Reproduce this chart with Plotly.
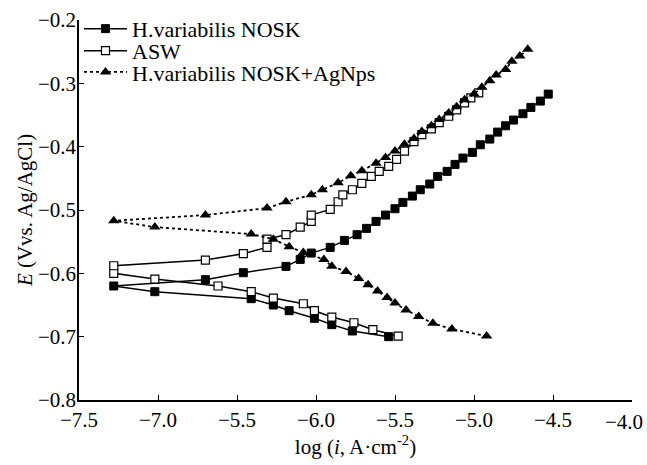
import plotly.graph_objects as go

# H.variabilis NOSK (cathodic branch then anodic branch)
nosk_x = [-5.54, -5.77, -5.90, -6.01, -6.17, -6.27, -6.41, -7.02, -7.28,
          -6.70, -6.46, -6.19, -6.10, -6.03, -5.91, -5.82, -5.74, -5.68, -5.62,
          -5.56, -5.50, -5.45, -5.39, -5.34, -5.28, -5.23, -5.17, -5.12, -5.07,
          -5.01, -4.96, -4.90, -4.85, -4.80, -4.75, -4.69, -4.64, -4.58, -4.53]
nosk_y = [-0.700, -0.691, -0.681, -0.671, -0.659, -0.650, -0.640, -0.629, -0.620,
          -0.610, -0.599, -0.589, -0.578, -0.568, -0.559, -0.548, -0.539, -0.529, -0.518,
          -0.508, -0.498, -0.488, -0.478, -0.468, -0.459, -0.447, -0.439, -0.428, -0.418,
          -0.409, -0.397, -0.388, -0.377, -0.367, -0.358, -0.348, -0.338, -0.328, -0.317]

# ASW
asw_x = [-5.48, -5.64, -5.76, -5.90, -6.01, -6.08, -6.27, -6.41, -6.62, -7.02, -7.28,
         -7.28, -6.70, -6.46, -6.31, -6.31, -6.19, -6.10, -6.03, -6.03, -5.91, -5.86,
         -5.83, -5.77, -5.71, -5.65, -5.60, -5.54, -5.49, -5.44, -5.38, -5.33, -5.27,
         -5.22, -5.16, -5.11, -5.06, -5.02, -4.97]
asw_y = [-0.699, -0.689, -0.678, -0.669, -0.659, -0.648, -0.639, -0.629, -0.620, -0.609, -0.600,
         -0.588, -0.579, -0.569, -0.559, -0.546, -0.539, -0.527, -0.518, -0.508, -0.499, -0.487,
         -0.476, -0.468, -0.458, -0.447, -0.439, -0.431, -0.420, -0.407, -0.392, -0.381, -0.372,
         -0.362, -0.352, -0.342, -0.331, -0.323, -0.315]

# H.variabilis NOSK+AgNps
agnp_x = [-4.92, -5.14, -5.26, -5.35, -5.43, -5.50, -5.55, -5.61, -5.67, -5.73, -5.81,
          -5.90, -5.95, -6.08, -6.17, -6.27, -6.41, -7.02, -7.28,
          -6.70, -6.31, -6.19, -6.03, -5.96, -5.86, -5.78, -5.71, -5.62, -5.56, -5.50,
          -5.44, -5.38, -5.33, -5.27, -5.22, -5.16, -5.11, -5.06, -5.00, -4.95, -4.90,
          -4.86, -4.80, -4.76, -4.71, -4.66]
agnp_y = [-0.699, -0.688, -0.679, -0.668, -0.658, -0.647, -0.638, -0.628, -0.618, -0.608, -0.597,
          -0.589, -0.578, -0.567, -0.558, -0.546, -0.538, -0.527, -0.517,
          -0.508, -0.497, -0.487, -0.476, -0.468, -0.457, -0.446, -0.438, -0.426, -0.417, -0.407,
          -0.396, -0.387, -0.376, -0.367, -0.357, -0.347, -0.337, -0.326, -0.317, -0.306, -0.296,
          -0.287, -0.278, -0.265, -0.257, -0.246]

x_tickvals = [-7.5, -7.0, -6.5, -6.0, -5.5, -5.0, -4.5, -4.0]
x_ticktext = ["\u22127.5", "\u22127.0", "\u22125.5", "\u22126.0", "\u22125.5", "\u22125.0", "\u22124.5", ""]
last_x_label = "\u22124.0"
y_tickvals = [-0.8, -0.7, -0.6, -0.5, -0.4, -0.3, -0.2]

series_names = ["H.variabilis NOSK", "ASW", "H.variabilis NOSK+AgNps"]

FONT = "Liberation Serif, Times New Roman, serif"

fig = go.Figure()
fig.add_trace(go.Scatter(
    x=nosk_x, y=nosk_y, mode="lines+markers", name=series_names[0],
    line=dict(color="black", width=1.5),
    marker=dict(symbol="square", size=8, color="black", line=dict(color="black", width=1)),
    legend="legend"))
fig.add_trace(go.Scatter(
    x=asw_x, y=asw_y, mode="lines+markers", name=series_names[1],
    line=dict(color="black", width=1.5),
    marker=dict(symbol="square", size=8, color="white", line=dict(color="black", width=1.2)),
    legend="legend2"))
fig.add_trace(go.Scatter(
    x=agnp_x, y=agnp_y, mode="lines+markers", name=series_names[2],
    line=dict(color="black", width=1.8, dash="dot"),
    marker=dict(symbol="triangle-up", size=10, color="black", line=dict(color="black", width=0)),
    legend="legend3"))

leg_common = dict(font=dict(family=FONT, size=22, color="black"), bgcolor="rgba(0,0,0,0)",
                  xanchor="left", yanchor="top", borderwidth=0, itemwidth=43, visible=True)

fig.update_layout(
    width=647, height=465,
    showlegend=True,
    margin=dict(l=79, r=15, t=20, b=65, autoexpand=False),
    paper_bgcolor="white", plot_bgcolor="white",
    font=dict(family=FONT, size=21, color="black"),
    legend=dict(x=0.0, y=1.032, **leg_common),
    legend2=dict(x=0.0, y=0.974, **leg_common),
    legend3=dict(x=0.0, y=0.918, **leg_common),
    xaxis=dict(range=[-7.5, -4.0], tickvals=x_tickvals, ticktext=x_ticktext,
               showline=True, linecolor="black", linewidth=1.5, ticks="inside",
               ticklen=5, tickwidth=1.2, tickcolor="black", showgrid=False, zeroline=False,
               automargin=False,
               tickfont=dict(family=FONT, size=21),
               title=dict(text="log (<i>i</i>, A\u00b7cm<sup>-2</sup>)", font=dict(family=FONT, size=21),
                          standoff=4)),
    yaxis=dict(range=[-0.8, -0.2], tickvals=y_tickvals, tickformat=".1f",
               showline=True, linecolor="black", linewidth=1.5, ticks="inside",
               ticklen=5, tickwidth=1.2, tickcolor="black", showgrid=False, zeroline=False,
               automargin=False, ticklabelstandoff=-3,
               tickfont=dict(family=FONT, size=21),
               title=dict(text="<i>E</i> (Vvs. Ag/AgCl)", font=dict(family=FONT, size=21),
                          standoff=0)),
    annotations=[dict(x=-4.0, y=0, xref="x", yref="paper", text=last_x_label,
                      showarrow=False, xanchor="center", yanchor="top", xshift=-8, yshift=-8,
                      font=dict(family=FONT, size=21, color="black"))],
)

fig.write_html("out.html", config={"displayModeBar": False},
               post_script="document.body.style.margin='0';document.body.style.padding='0';")
